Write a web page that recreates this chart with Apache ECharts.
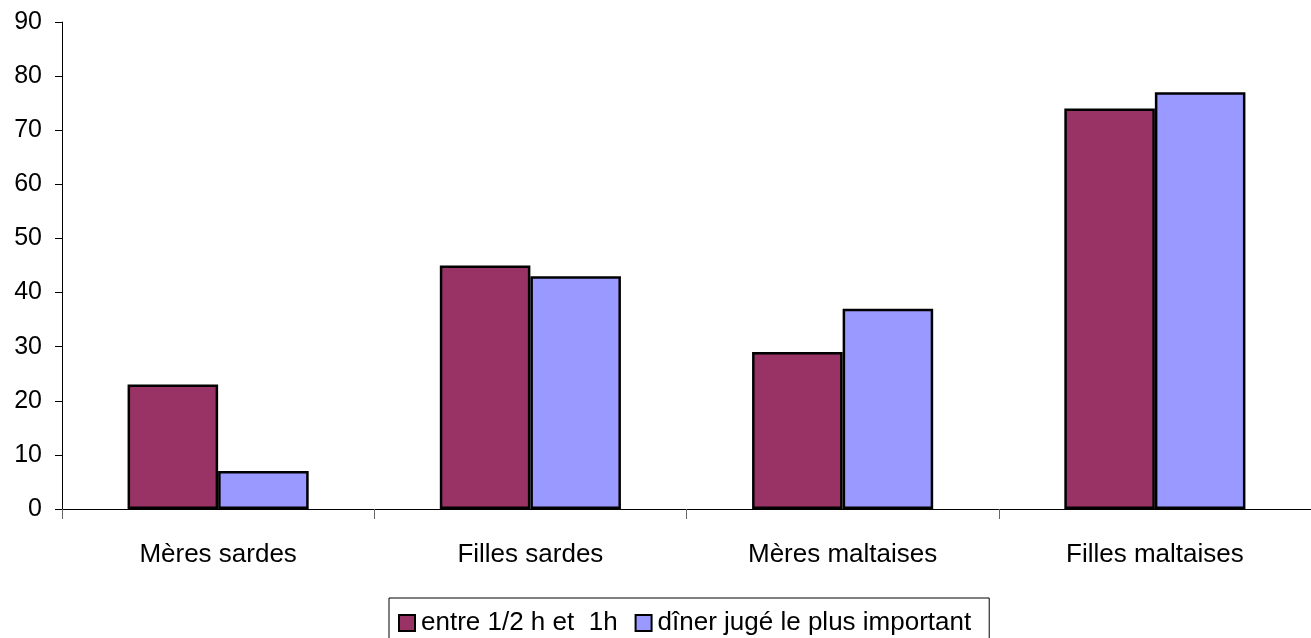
<!DOCTYPE html>
<html>
<head>
<meta charset="utf-8">
<script src="https://cdn.jsdelivr.net/npm/echarts@6/dist/echarts.min.js"></script>
<style>
html,body{margin:0;padding:0;background:#fff;}
#chart{width:1311px;height:638px;}
</style>
</head>
<body>
<div id="chart"></div>
<script>
const categories = ['Mères sardes', 'Filles sardes', 'Mères maltaises', 'Filles maltaises'];
const seriesNames = ['entre 1/2 h et  1h', 'dîner jugé le plus important'];
const entreDemiEtUne = [23, 45, 29, 74];
const dinerImportant = [7, 43, 37, 77];
const colors = ['#993366', '#9999FF'];

const chart = echarts.init(document.getElementById('chart'));

const barBase = {
    type: 'bar',
    barGap: 0,
    barCategoryGap: '42%',
    itemStyle: {
        borderColor: '#000',
        borderWidth: 2.5
    }
};

chart.setOption({
    animation: false,
    color: colors,
    textStyle: {fontFamily: 'Liberation Sans, Arial, sans-serif'},
    grid: {
        left: 62,
        right: 0,
        top: 22,
        bottom: 129
    },
    legend: {
        left: 389,
        top: 598,
        icon: 'rect',
        itemWidth: 16,
        itemHeight: 16,
        itemGap: 17,
        padding: [12, 18, 4, 9],
        borderColor: '#000',
        borderWidth: 1,
        itemStyle: {borderColor: '#000', borderWidth: 2},
        textStyle: {fontSize: 26, color: '#000', padding: [0, 0, 0, 1]},
        data: seriesNames
    },
    xAxis: {
        type: 'category',
        data: categories,
        axisLine: {lineStyle: {color: '#000', width: 1}},
        axisTick: {show: true, length: 10, lineStyle: {color: '#666'}},
        axisLabel: {fontSize: 26, color: '#000', margin: 33}
    },
    yAxis: {
        type: 'value',
        min: 0,
        max: 90,
        interval: 10,
        axisLine: {show: true, lineStyle: {color: '#000', width: 1}},
        axisTick: {show: true, length: 7, lineStyle: {color: '#000'}},
        axisLabel: {fontSize: 25, color: '#000', margin: 20},
        splitLine: {show: false}
    },
    series: [
        Object.assign({}, barBase, {name: seriesNames[0], data: entreDemiEtUne}),
        Object.assign({}, barBase, {name: seriesNames[1], data: dinerImportant})
    ]
});
</script>
</body>
</html>
